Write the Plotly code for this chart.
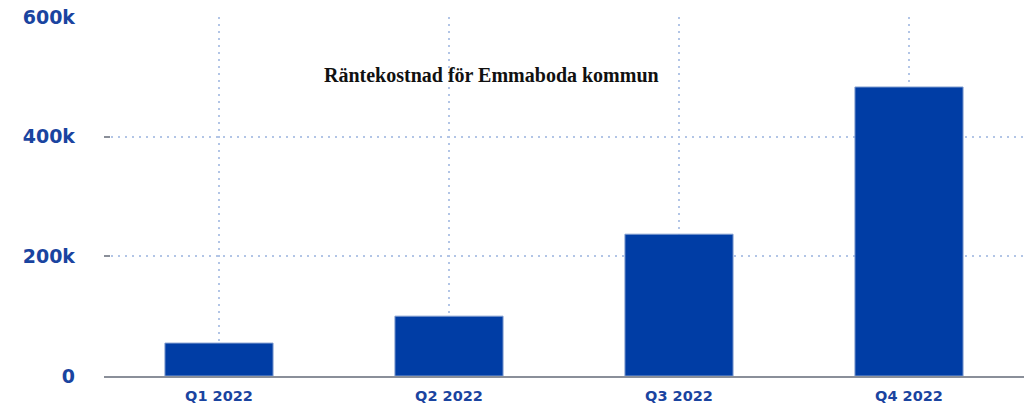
import plotly.graph_objects as go

categories = ["Q1 2022", "Q2 2022", "Q3 2022", "Q4 2022"]
values = [55000, 100000, 237000, 483000]
ytick_vals = [0, 200000, 400000, 600000]
ytick_text = ["0", "200k", "400k", "600k"]
title_text = "Räntekostnad för Emmaboda kommun"

blue_text = "#1a44a0"
grid = "#b2c5e6"

fig = go.Figure()
fig.add_trace(go.Bar(
    x=categories, y=values,
    marker=dict(color="#003da5", line=dict(color="#7f9ccf", width=1)),
    width=0.47,
))

fig.update_layout(
    width=1024, height=404,
    margin=dict(l=104, r=0, t=17, b=28),
    paper_bgcolor="white", plot_bgcolor="white",
    showlegend=False,
    annotations=[dict(
        text=title_text, x=0.4217, y=0.838, xref="paper", yref="paper",
        showarrow=False, xanchor="center", yanchor="middle",
        font=dict(family="Liberation Serif", size=20, color="#111111", weight="bold"),
    )],
)
fig.update_xaxes(
    showgrid=True, gridcolor=grid, griddash="2px,5px", gridwidth=1.5,
    showline=True, linecolor="#8a8f99", linewidth=1.5,
    tickfont=dict(family="DejaVu Sans", size=14.5, color=blue_text, weight="bold"),
    ticks="", ticklabelstandoff=6,
)
fig.update_yaxes(
    range=[0, 600000], tickvals=ytick_vals, ticktext=ytick_text,
    showgrid=True, gridcolor=grid, griddash="2px,5px", gridwidth=1.5,
    zeroline=False,
    ticks="inside", ticklen=6, tickcolor="#8a8f99", tickwidth=2,
    tickfont=dict(family="DejaVu Sans", size=19, color=blue_text, weight="bold"),
    ticklabelstandoff=28,
)

fig.write_html(
    "out.html",
    config={"displayModeBar": False},
    post_script="document.body.style.margin='0';document.body.style.overflow='hidden';",
)
